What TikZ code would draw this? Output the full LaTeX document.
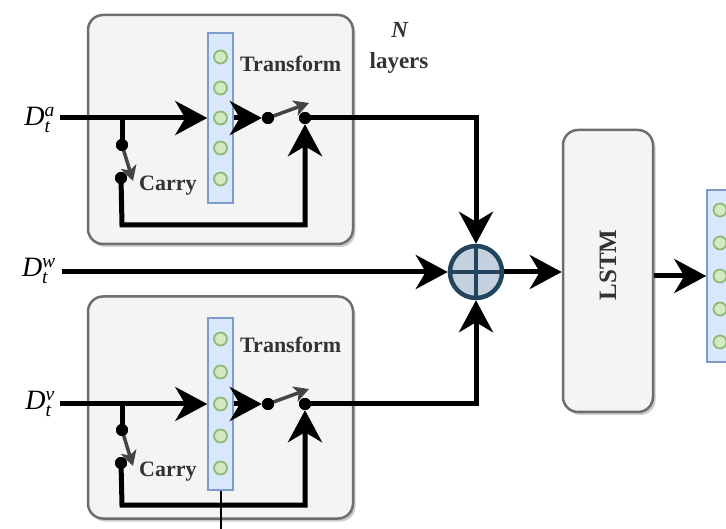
\documentclass[tikz,border=0pt]{standalone}
\usepackage{amsmath}
\usepackage{fontspec}
\setmainfont{Liberation Serif}
\usetikzlibrary{arrows.meta,shadows}
\definecolor{boxfill}{HTML}{F4F4F4}
\definecolor{boxdraw}{HTML}{6E6E6E}
\definecolor{colfill}{HTML}{DAE8FC}
\definecolor{coldraw}{HTML}{7D9CCB}
\definecolor{cirfill}{HTML}{D2E9C2}
\definecolor{cirdraw}{HTML}{8DBA78}
\definecolor{sumfill}{HTML}{C3D1DF}
\definecolor{sumdraw}{HTML}{23445D}
\definecolor{swgray}{HTML}{444444}
\definecolor{txtgray}{HTML}{333333}
\begin{document}
\begin{tikzpicture}[x=1pt,y=-1pt,
  panel/.style={draw=boxdraw, line width=2.5pt, fill=boxfill, rounded corners=15pt, inner sep=0pt,
    drop shadow={shadow xshift=2.5pt,shadow yshift=-3pt,opacity=0.4}},
  column/.style={draw=coldraw, fill=colfill, line width=1.5pt, inner sep=0pt, minimum width=25pt},
  neuron/.style={circle, draw=cirdraw, fill=cirfill, line width=1.8pt, minimum size=13pt, inner sep=0pt},
  dot/.style={circle, fill=black, minimum size=12pt, inner sep=0pt},
  wire/.style={line width=5pt},
  arr/.style={wire, -{Stealth[length=32pt,width=34pt,inset=10pt]}},
  swarm/.style={draw=swgray, line width=3.5pt, -{Stealth[length=15pt,width=16pt,inset=4pt]}},
  lbl/.style={font=\fontsize{22pt}{24pt}\selectfont\bfseries, text=txtgray, inner sep=0pt},
  inlbl/.style={font=\fontsize{28pt}{30pt}\selectfont, inner sep=0pt, anchor=east},
]
\useasboundingbox (0,0) rectangle (726,529);
\fill[white] (0,0) rectangle (726,529);

% panels
\node[panel, minimum width=265pt, minimum height=229pt] (boxA) at (220.5,129.5) {};
\node[panel, minimum width=265pt, minimum height=222pt] (boxB) at (220.5,407.5) {};
\node[panel, minimum width=90pt, minimum height=282pt] (lstm) at (608,271) {};
\node[font=\fontsize{25pt}{27pt}\selectfont\bfseries, text=txtgray, inner sep=0pt, rotate=90] (lstmtxt) at (608,265) {LSTM};

% columns
\node[column, minimum height=170pt] (colA) at (220.5,118) {};
\node[column, minimum height=172pt] (colB) at (220.5,404) {};
\node[column, minimum height=172pt] (colC) at (719.5,276) {};

\foreach \i/\y in {1/57,2/88,3/118,4/148,5/179}{\node[neuron] (cA\i) at (220.5,\y) {};}
\foreach \i/\y in {1/339,2/372,3/404,4/436,5/468}{\node[neuron] (cB\i) at (220.5,\y) {};}
\foreach \i/\y in {1/210,2/243,3/276,4/309,5/342}{\node[neuron] (cC\i) at (720,\y) {};}

% sum
\node[circle, draw=sumdraw, fill=sumfill, line width=4.5pt, minimum size=52pt, inner sep=0pt] (sum) at (476,272) {};
\draw[sumdraw, line width=4pt] (sum.north) -- (sum.south) (sum.west) -- (sum.east);

% ---- upper block
\coordinate (inA) at (60,118);
\coordinate (brA) at (122,118);
\coordinate (lpA1) at (122,225);
\coordinate (swA) at (309,103);
\coordinate (cyA) at (133,181);
\node[dot] (dA1) at (268,118) {};
\node[dot] (dA2) at (305,118) {};
\node[dot] (dA3) at (122,145) {};
\node[dot] (dA4) at (121,178) {};
\draw[arr] (inA) -- (colA.west);
\draw[arr] (colA.east) -- (dA1);
\draw[wire] (brA) -- (dA3.center);
\draw[arr] (dA4.center) -- (lpA1) -| (dA2);
\draw[arr] (dA2.center) -| (sum.north);
\draw[swarm] (dA1.center) -- (swA);
\draw[swarm] (dA3.center) -- (cyA);
\node[dot] at (dA1) {};
\node[dot] at (dA2) {};
\node[dot] at (dA3) {};
\node[dot] at (dA4) {};

% ---- lower block
\coordinate (inB) at (60,404);
\coordinate (brB) at (122,404);
\coordinate (lpB1) at (122,505);
\coordinate (swB) at (309,389);
\coordinate (cyB) at (133,466);
\coordinate (botEnd) at (220.5,529);
\node[dot] (dB1) at (268,404) {};
\node[dot] (dB2) at (305,404) {};
\node[dot] (dB3) at (122,430) {};
\node[dot] (dB4) at (121,463) {};
\draw[arr] (inB) -- (colB.west);
\draw[arr] (colB.east) -- (dB1);
\draw[wire] (brB) -- (dB3.center);
\draw[arr] (dB4.center) -- (lpB1) -| (dB2);
\draw[arr] (dB2.center) -| (sum.south);
\draw[swarm] (dB1.center) -- (swB);
\draw[swarm] (dB3.center) -- (cyB);
\draw[line width=2pt] (colB.south) -- (botEnd);
\node[dot] at (dB1) {};
\node[dot] at (dB2) {};
\node[dot] at (dB3) {};
\node[dot] at (dB4) {};

% ---- middle
\coordinate (inW) at (62,272);
\draw[arr] (inW) -- (sum.west);
\draw[arr] (sum.east) -- (lstm.west |- sum.east);
\draw[arr] (lstm.east |- colC.west) -- (colC.west);

% ---- texts
\node[lbl, anchor=base west] (trA) at (240,72) {Transform};
\node[lbl, anchor=base west] (caA) at (139,191) {Carry};
\node[lbl, anchor=base west] (trB) at (240,353) {Transform};
\node[lbl, anchor=base west] (caB) at (139,476) {Carry};
\node[lbl, font=\fontsize{23pt}{25pt}\selectfont\bfseries] (nN) at (400,30) {\textit{N}};
\node[lbl, font=\fontsize{23pt}{25pt}\selectfont\bfseries] (nL) at (399,63) {layers};

\node[inlbl] (la) at (55,120) {\textit{D}$_{\textit{t}}^{\textit{a}}$};
\node[inlbl] (lw) at (56,271) {\textit{D}$_{\textit{t}}^{\textit{w}}$};
\node[inlbl] (lv) at (55,404) {\textit{D}$_{\textit{t}}^{\textit{v}}$};
\end{tikzpicture}
\end{document}
